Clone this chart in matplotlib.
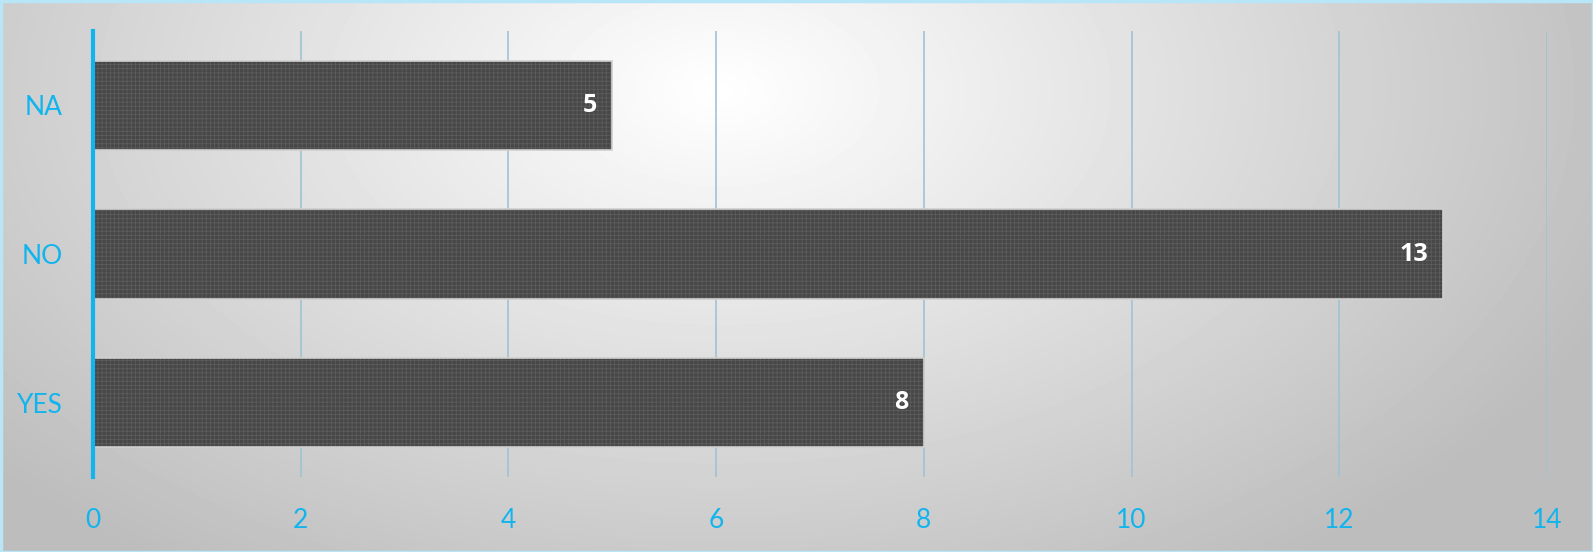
import numpy as np
import matplotlib.pyplot as plt

# data
categories = ["YES", "NO", "NA"]
values = [8, 13, 5]
xticks = [0, 2, 4, 6, 8, 10, 12, 14]

blue = "#12B4EE"
plt.rcParams['font.family'] = ['Lato', 'DejaVu Sans']
plt.rcParams['hatch.linewidth'] = 0.6

fig = plt.figure(figsize=(15.93, 5.52), dpi=100)

# radial gradient background
bg = fig.add_axes([0, 0, 1, 1], zorder=-10)
yy, xx = np.mgrid[0:552, 0:1593]
d = np.sqrt(((xx - 720) / 1000.0) ** 2 + ((yy - 90) / 600.0) ** 2)
shade = np.clip(1.0 - 0.27 * d, 0.74, 1.0)
bg.imshow(shade, cmap='gray', vmin=0, vmax=1, aspect='auto', interpolation='bilinear')
bg.set_axis_off()
bg.add_patch(plt.Rectangle((0, 0), 1592, 551, fill=False, edgecolor='#b9e6f7', linewidth=2.5))

ax = fig.add_axes([0.0584, 0.1359, 0.9127, 0.8079])
ax.patch.set_alpha(0)
y = np.arange(len(categories))
bars = ax.barh(y, values, height=0.6, color='#474747', edgecolor='#d0d0d0',
               linewidth=1.2, hatch='++++', zorder=3)
for b in bars:
    b._hatch_color = (0.36, 0.36, 0.36, 1.0)

for yi, v in zip(y, values):
    ax.annotate(str(v), (v, yi), xytext=(-11, 0), textcoords='offset points',
                ha='right', va='center', color='white', fontsize=18,
                fontweight='bold', family=['Open Sans', 'DejaVu Sans'], zorder=4)

ax.set_xlim(0, 14)
ax.set_ylim(-0.5, 2.5)
ax.set_xticks(xticks)
ax.set_yticks(y)
ax.set_yticklabels(categories)
ax.grid(axis='x', color='#9fc3d2', linewidth=1.2, zorder=0)
ax.set_axisbelow(True)
for s in ['right', 'top', 'bottom']:
    ax.spines[s].set_visible(False)
ax.spines['left'].set_color(blue)
ax.spines['left'].set_linewidth(3)
ax.spines['left'].set_zorder(5)
ax.tick_params(axis='both', length=0, labelsize=19, labelcolor=blue)
ax.tick_params(axis='x', pad=22)
ax.tick_params(axis='y', pad=22)

fig.savefig("out.png", dpi=100)
